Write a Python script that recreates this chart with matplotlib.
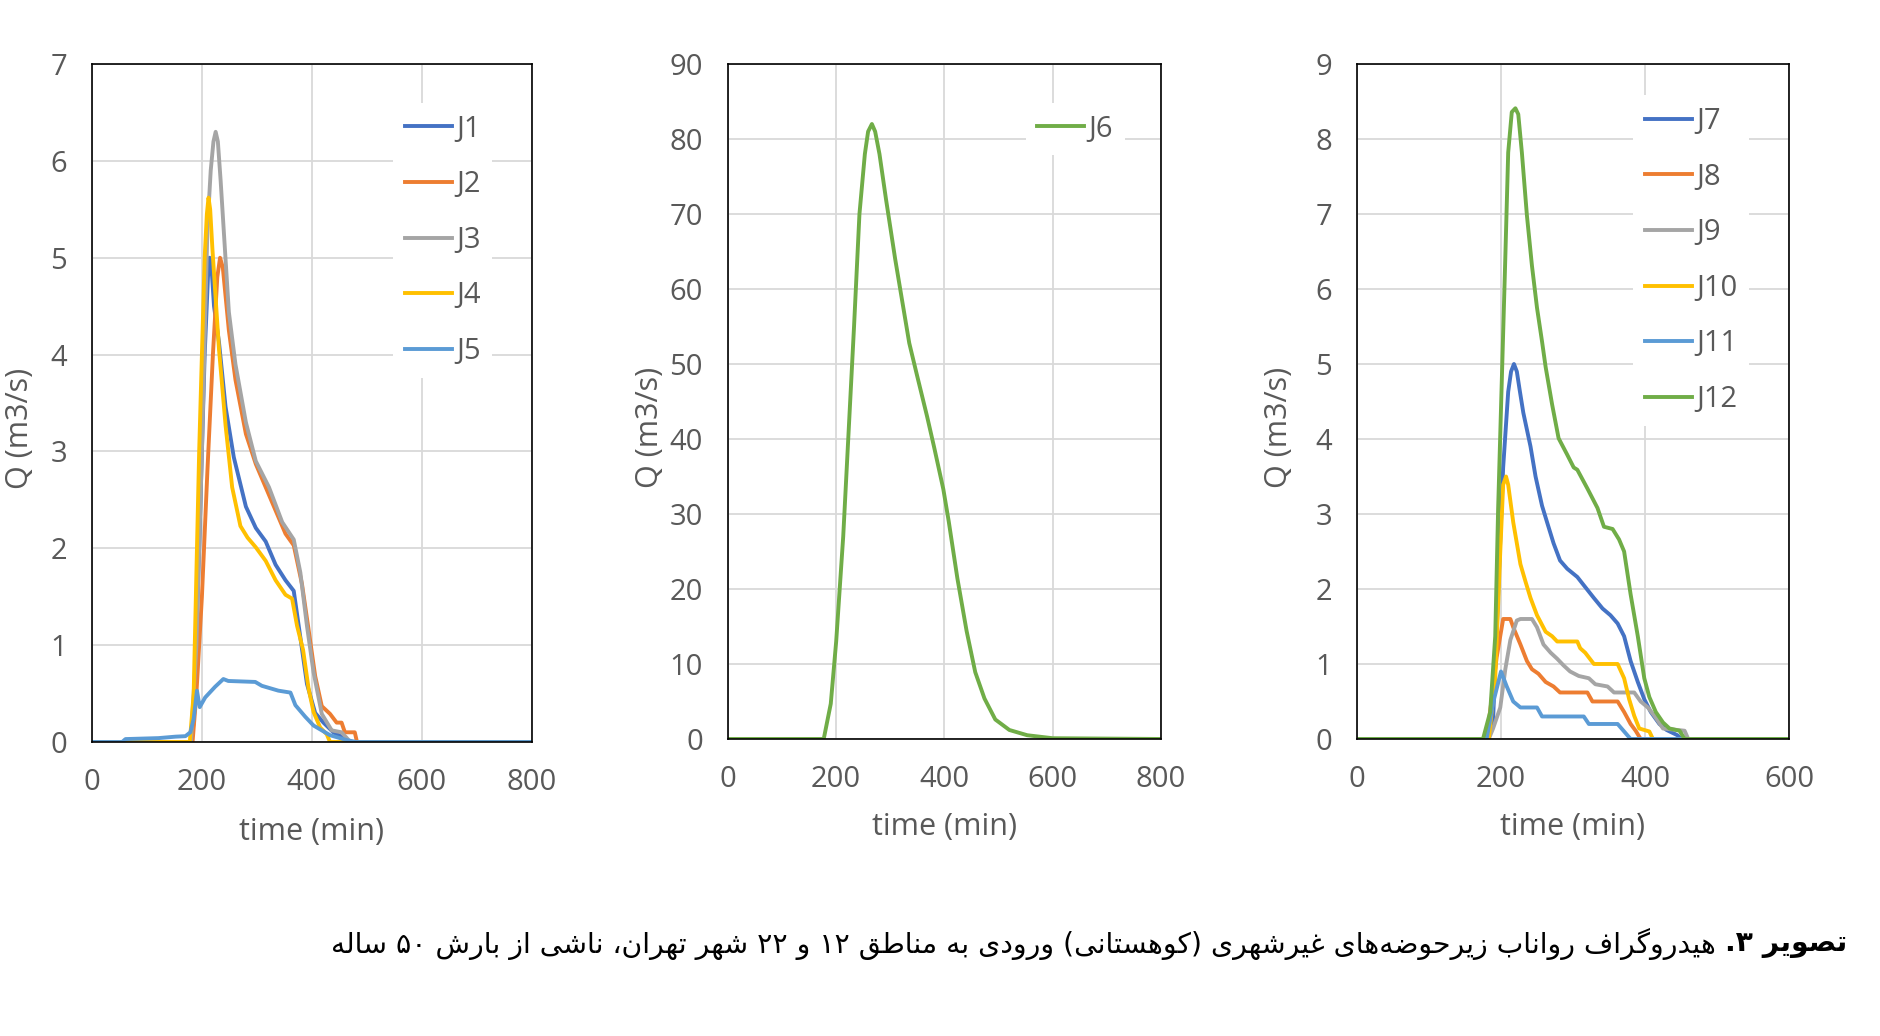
import re

import matplotlib
matplotlib.use("Agg")
import matplotlib.pyplot as plt

# ---- data ----
j1_t = [0, 180, 185, 195, 205, 211, 214, 218, 222, 231, 243, 258, 280, 298, 316, 334, 352, 367, 379, 391, 406, 421, 439, 455, 465, 800]
j1_q = [0, 0, 0.2, 2.0, 4.0, 4.8, 5.0, 4.85, 4.5, 4.13, 3.46, 2.94, 2.43, 2.21, 2.07, 1.83, 1.67, 1.56, 1.08, 0.6, 0.3, 0.2, 0.1, 0.05, 0, 0]

j2_t = [0, 183, 190, 200, 210, 220, 228, 233, 238, 249, 261, 280, 298, 316, 334, 352, 367, 382, 394, 406, 418, 433, 445, 454, 460, 478, 482, 800]
j2_q = [0, 0, 0.5, 1.5, 2.8, 4.0, 4.8, 5.0, 4.9, 4.25, 3.74, 3.18, 2.87, 2.63, 2.39, 2.15, 2.03, 1.63, 1.16, 0.68, 0.37, 0.29, 0.2, 0.2, 0.1, 0.1, 0, 0]

j3_t = [0, 180, 190, 200, 210, 216, 221, 225, 229, 234, 249, 261, 280, 298, 322, 346, 367, 379, 391, 403, 418, 436, 454, 470, 800]
j3_q = [0, 0, 1.0, 3.0, 5.3, 5.9, 6.2, 6.3, 6.2, 5.8, 4.44, 3.9, 3.3, 2.9, 2.63, 2.27, 2.09, 1.75, 1.2, 0.72, 0.29, 0.12, 0.1, 0, 0]

j4_t = [0, 178, 185, 195, 205, 209, 212, 215, 219, 231, 243, 255, 270, 283, 298, 316, 334, 352, 364, 373, 384, 394, 403, 415, 427, 433, 800]
j4_q = [0, 0, 0.5, 3.0, 5.0, 5.45, 5.62, 5.5, 5.1, 4.06, 3.27, 2.63, 2.23, 2.11, 2.01, 1.87, 1.67, 1.52, 1.48, 1.2, 0.95, 0.55, 0.31, 0.15, 0.08, 0, 0]

j5_t = [0, 55, 61, 121, 152, 170, 179, 185, 191, 196, 206, 224, 239, 248, 297, 309, 339, 361, 370, 388, 403, 433, 463, 481, 800]
j5_q = [0, 0, 0.03, 0.04, 0.055, 0.06, 0.1, 0.24, 0.53, 0.36, 0.46, 0.57, 0.65, 0.63, 0.62, 0.58, 0.53, 0.51, 0.38, 0.26, 0.17, 0.07, 0.02, 0, 0]

j6_t = [0, 177, 190, 200, 213, 223, 233, 243, 253, 259, 266, 272, 280, 292, 309, 322, 335, 349, 368, 381, 398, 408, 424, 441, 457, 474, 494, 520, 553, 600, 800]
j6_q = [0, 0, 4.7, 13, 27, 41, 55, 70, 78, 81, 82, 81, 78, 72, 64, 58.4, 52.8, 48.6, 43, 38.9, 33.3, 29, 21.4, 14.4, 8.9, 5.4, 2.6, 1.2, 0.5, 0.1, 0]

j7_t = [0, 180, 189, 196, 203, 210, 214, 218, 222, 226, 231, 241, 248, 257, 264, 273, 282, 292, 306, 315, 329, 341, 352, 362, 371, 380, 390, 399, 408, 420, 430, 445, 450, 600]
j7_q = [0, 0, 0.25, 1.93, 3.62, 4.63, 4.9, 5.0, 4.9, 4.65, 4.35, 3.9, 3.5, 3.11, 2.89, 2.61, 2.38, 2.27, 2.16, 2.05, 1.88, 1.74, 1.65, 1.54, 1.37, 1.04, 0.76, 0.53, 0.36, 0.2, 0.12, 0.05, 0, 0]

j8_t = [0, 180, 187, 194, 203, 213, 217, 227, 236, 243, 252, 262, 273, 282, 320, 327, 362, 371, 380, 387, 394, 600]
j8_q = [0, 0, 0.53, 1.09, 1.6, 1.6, 1.49, 1.26, 1.04, 0.93, 0.87, 0.76, 0.7, 0.62, 0.62, 0.5, 0.5, 0.36, 0.2, 0.11, 0, 0]

j9_t = [0, 183, 189, 199, 206, 213, 222, 227, 243, 250, 259, 269, 278, 287, 296, 308, 322, 331, 348, 357, 385, 394, 404, 413, 425, 455, 460, 600]
j9_q = [0, 0, 0.14, 0.42, 0.93, 1.32, 1.58, 1.6, 1.6, 1.49, 1.26, 1.15, 1.07, 0.98, 0.9, 0.84, 0.81, 0.73, 0.7, 0.62, 0.62, 0.5, 0.42, 0.31, 0.14, 0.11, 0, 0]

j10_t = [0, 183, 192, 199, 203, 207, 210, 217, 227, 234, 241, 250, 262, 271, 278, 306, 310, 317, 329, 362, 371, 378, 385, 392, 406, 411, 600]
j10_q = [0, 0, 0.81, 2.5, 3.39, 3.5, 3.39, 2.89, 2.33, 2.1, 1.88, 1.65, 1.43, 1.37, 1.3, 1.3, 1.21, 1.15, 1.0, 1.0, 0.81, 0.53, 0.31, 0.14, 0.1, 0, 0]

j11_t = [0, 180, 189, 200, 208, 217, 227, 250, 257, 315, 322, 362, 371, 380, 600]
j11_q = [0, 0, 0.48, 0.9, 0.7, 0.5, 0.42, 0.42, 0.3, 0.3, 0.2, 0.2, 0.1, 0, 0]

j12_t = [0, 175, 185, 192, 196, 201, 206, 210, 215, 220, 224, 229, 236, 243, 250, 257, 262, 271, 280, 292, 301, 306, 320, 334, 343, 355, 364, 371, 380, 390, 399, 406, 415, 425, 434, 448, 455, 600]
j12_q = [0, 0, 0.36, 1.37, 3.06, 4.74, 6.42, 7.82, 8.36, 8.41, 8.33, 7.82, 6.98, 6.31, 5.75, 5.3, 4.96, 4.46, 4.01, 3.79, 3.62, 3.59, 3.34, 3.08, 2.83, 2.8, 2.66, 2.5, 1.93, 1.37, 0.81, 0.56, 0.36, 0.22, 0.14, 0.11, 0, 0]

caption_label = "تصویر ۳."
caption_text = "هیدروگراف رواناب زیرحوضه\u200cهای غیرشهری (کوهستانی) ورودی به مناطق ۱۲ و ۲۲ شهر تهران، ناشی از بارش ۵۰ ساله"

BLUE, ORANGE, GRAY, YELLOW, LBLUE, GREEN = "#4472C4", "#ED7D31", "#A5A5A5", "#FFC000", "#5B9BD5", "#70AD47"
TXT = "#595959"

# ---- minimal Persian shaping (matplotlib has no complex text layout) ----
FORMS = {
    "ا": ("\uFE8D", "\uFE8E", None, None),
    "ب": ("\uFE8F", "\uFE90", "\uFE91", "\uFE92"),
    "ت": ("\uFE95", "\uFE96", "\uFE97", "\uFE98"),
    "ح": ("\uFEA1", "\uFEA2", "\uFEA3", "\uFEA4"),
    "د": ("\uFEA9", "\uFEAA", None, None),
    "ر": ("\uFEAD", "\uFEAE", None, None),
    "ز": ("\uFEAF", "\uFEB0", None, None),
    "س": ("\uFEB1", "\uFEB2", "\uFEB3", "\uFEB4"),
    "ش": ("\uFEB5", "\uFEB6", "\uFEB7", "\uFEB8"),
    "ص": ("\uFEB9", "\uFEBA", "\uFEBB", "\uFEBC"),
    "ض": ("\uFEBD", "\uFEBE", "\uFEBF", "\uFEC0"),
    "ط": ("\uFEC1", "\uFEC2", "\uFEC3", "\uFEC4"),
    "غ": ("\uFECD", "\uFECE", "\uFECF", "\uFED0"),
    "ف": ("\uFED1", "\uFED2", "\uFED3", "\uFED4"),
    "ق": ("\uFED5", "\uFED6", "\uFED7", "\uFED8"),
    "ل": ("\uFEDD", "\uFEDE", "\uFEDF", "\uFEE0"),
    "م": ("\uFEE1", "\uFEE2", "\uFEE3", "\uFEE4"),
    "ن": ("\uFEE5", "\uFEE6", "\uFEE7", "\uFEE8"),
    "ه": ("\uFEE9", "\uFEEA", "\uFEEB", "\uFEEC"),
    "و": ("\uFEED", "\uFEEE", None, None),
    "ک": ("\uFB8E", "\uFB8F", "\uFB90", "\uFB91"),
    "گ": ("\uFB92", "\uFB93", "\uFB94", "\uFB95"),
    "ی": ("\uFBFC", "\uFBFD", "\uFBFE", "\uFBFF"),
}


def shape(text):
    out = []
    for i, ch in enumerate(text):
        f = FORMS.get(ch)
        if f is None:
            if ch != "\u200c":
                out.append(ch)
            continue
        prev = text[i - 1] if i > 0 else ""
        nxt = text[i + 1] if i + 1 < len(text) else ""
        jp = prev in FORMS and FORMS[prev][2] is not None
        jn = f[2] is not None and nxt in FORMS
        if jp and jn:
            out.append(f[3])
        elif jp:
            out.append(f[1])
        elif jn:
            out.append(f[2])
        else:
            out.append(f[0])
    return "".join(out)


def rtl(text):
    s = shape(text)
    runs = re.findall(r"[۰-۹]+|[^۰-۹]+", s)
    mirror = str.maketrans("()", ")(")
    parts = []
    for r in reversed(runs):
        parts.append(r if r[0] in "۰۱۲۳۴۵۶۷۸۹" else r[::-1].translate(mirror))
    return "".join(parts)


plt.rcParams["font.family"] = ["Open Sans", "DejaVu Sans"]

fig = plt.figure(figsize=(18.8, 10.36), dpi=100)
ax1 = fig.add_axes([0.0489, 0.2838, 0.2340, 0.6544])
ax2 = fig.add_axes([0.3872, 0.2867, 0.2303, 0.6515])
ax3 = fig.add_axes([0.7218, 0.2867, 0.2298, 0.6515])

lw = 2.8
ax1.plot(j1_t, j1_q, color=BLUE, lw=lw, label="J1")
ax1.plot(j2_t, j2_q, color=ORANGE, lw=lw, label="J2")
ax1.plot(j3_t, j3_q, color=GRAY, lw=lw, label="J3")
ax1.plot(j4_t, j4_q, color=YELLOW, lw=lw, label="J4")
ax1.plot(j5_t, j5_q, color=LBLUE, lw=lw, label="J5")

ax2.plot(j6_t, j6_q, color=GREEN, lw=lw, label="J6")

ax3.plot(j7_t, j7_q, color=BLUE, lw=lw, label="J7")
ax3.plot(j8_t, j8_q, color=ORANGE, lw=lw, label="J8")
ax3.plot(j9_t, j9_q, color=GRAY, lw=lw, label="J9")
ax3.plot(j10_t, j10_q, color=YELLOW, lw=lw, label="J10")
ax3.plot(j11_t, j11_q, color=LBLUE, lw=lw, label="J11")
ax3.plot(j12_t, j12_q, color=GREEN, lw=lw, label="J12")

setups = [
    (ax1, 800, 7, 1, (0.652, 0.964)),
    (ax2, 800, 90, 10, (0.654, 0.964)),
    (ax3, 600, 9, 1, (0.606, 0.975)),
]
for ax, xmax, ymax, ystep, leg_at in setups:
    ax.set_xlim(0, xmax)
    ax.set_ylim(0, ymax)
    ax.set_xticks(range(0, xmax + 1, 200))
    ax.set_yticks(range(0, ymax + 1, ystep))
    ax.grid(True, color="#D9D9D9", lw=1.3)
    ax.set_axisbelow(True)
    for sp in ax.spines.values():
        sp.set_color("black")
        sp.set_linewidth(1.2)
    ax.tick_params(length=0, labelsize=21, labelcolor=TXT)
    ax.tick_params(axis="y", pad=18)
    ax.tick_params(axis="x", pad=19)
    ax.set_xlabel("time (min)", fontsize=22, color=TXT)
    ax.set_ylabel("Q (m3/s)", fontsize=22, color=TXT)
    ax.legend(loc="upper left", bbox_to_anchor=leg_at, fontsize=21, frameon=True,
              facecolor="white", edgecolor="none", framealpha=1, fancybox=False,
              handlelength=1.6, handletextpad=0.15, labelspacing=0.91, borderpad=0.4,
              labelcolor=TXT)

ax1.yaxis.set_label_coords(-0.129, 0.463)
ax2.yaxis.set_label_coords(-0.146, 0.461)
ax3.yaxis.set_label_coords(-0.146, 0.461)
ax1.xaxis.set_label_coords(0.5, -0.110)
ax2.xaxis.set_label_coords(0.5, -0.108)
ax3.xaxis.set_label_coords(0.5, -0.108)

# caption, right-to-left: bold label at the right end, the rest to its left
lab = fig.text(0.9824, 0.089, rtl(caption_label), ha="right", va="center",
               fontsize=20.3, fontweight="bold", family="DejaVu Sans", color="black")
fig.canvas.draw()
bb = lab.get_window_extent(fig.canvas.get_renderer())
x_rest = (bb.x0 - 9) / fig.bbox.width
fig.text(x_rest, 0.089, rtl(caption_text), ha="right", va="center",
         fontsize=20.3, family="DejaVu Sans", color="black")

fig.savefig("out.png", dpi=100)
